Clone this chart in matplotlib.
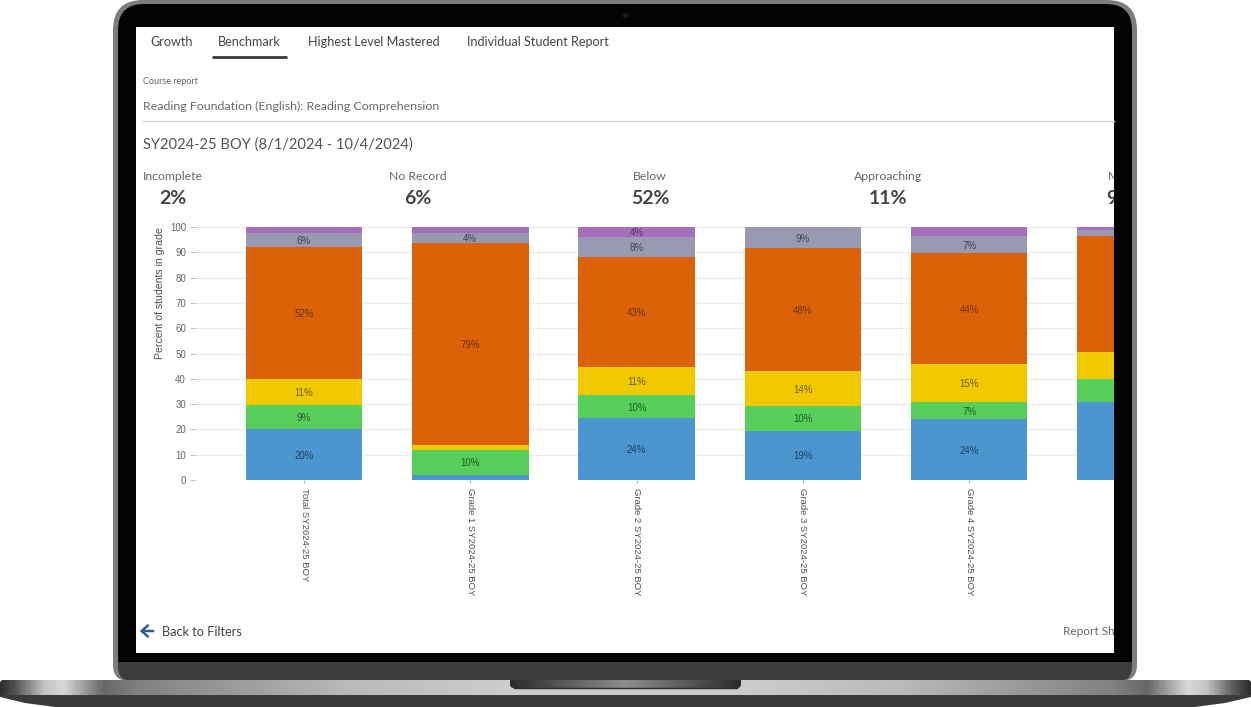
import matplotlib
matplotlib.use('Agg')
import matplotlib.pyplot as plt
import numpy as np
from matplotlib.colors import LinearSegmentedColormap
from matplotlib.patches import FancyBboxPatch, Rectangle, Polygon

W, H = 1251, 707

categories = ['Total SY2024-25 BOY', 'Grade 1 SY2024-25 BOY', 'Grade 2 SY2024-25 BOY',
              'Grade 3 SY2024-25 BOY', 'Grade 4 SY2024-25 BOY', 'Grade 5 SY2024-25 BOY']

# stacked from the bottom up
blue = [20, 2, 24.4, 19.5, 24, 31]
green = [9.5, 10, 9.1, 9.8, 6.8, 9]
yellow = [10.5, 2, 11.1, 13.7, 15, 10.4]
orange = [52, 79.5, 43.4, 48.6, 43.9, 46]
gray = [5.6, 4.1, 8, 8.4, 6.7, 2.6]
purple = [2.4, 2.4, 4, 0, 3.6, 1]

blue_labels = ['20%', '', '24%', '19%', '24%', '']
green_labels = ['9%', '10%', '10%', '10%', '7%', '']
yellow_labels = ['11%', '', '11%', '14%', '15%', '']
orange_labels = ['52%', '79%', '43%', '48%', '44%', '']
gray_labels = ['6%', '4%', '8%', '9%', '7%', '']
purple_labels = ['', '', '4%', '', '', '']

summary_names = ['Incomplete', 'No Record', 'Below', 'Approaching', 'Meets']
summary_values = ['2%', '6%', '52%', '11%', '9%']
tabs = ['Growth', 'Benchmark', 'Highest Level Mastered', 'Individual Student Report']

UI_FONT = ['Lato', 'Open Sans', 'DejaVu Sans']
CHART_FONT = ['Liberation Sans', 'DejaVu Sans']


def make_axes(fig, left, top, right, bottom):
    return fig.add_axes([left / W, 1 - bottom / H, (right - left) / W, (bottom - top) / H])


fig = plt.figure(figsize=(W / 100, H / 100), dpi=100, facecolor='white')

# laptop body and screen, drawn in pixel coordinates
bg = fig.add_axes([0, 0, 1, 1])
bg.set_xlim(0, W)
bg.set_ylim(H, 0)
bg.axis('off')


def rounded(ax, x0, y0, x1, y1, r, color, z):
    p = FancyBboxPatch((x0 + r, y0 + r), x1 - x0 - 2 * r, y1 - y0 - 2 * r,
                       boxstyle=f'round,pad={r},rounding_size={r}',
                       facecolor=color, edgecolor='none', zorder=z)
    ax.add_patch(p)
    return p


# outer frame: big radius on top, small at the bottom
rounded(bg, 113, 0, 1137, 300, 30, '#7b7d80', 1)
rounded(bg, 113, 100, 1137, 681, 16, '#7b7d80', 1)
rounded(bg, 118, 4, 1132, 300, 26, '#030304', 2)
rounded(bg, 118, 100, 1132, 681, 14, '#3c3c3c', 2)
bg.add_patch(Rectangle((118, 100), 1014, 562, facecolor='#030304', edgecolor='none', zorder=3))
bg.add_patch(Rectangle((136, 27), 978, 626, facecolor='white', edgecolor='none', zorder=4))
bg.plot([625], [15], 'o', ms=3, color='#1c1c20', zorder=5)

# base of the laptop: metallic strip over a dark lower lip
bg.add_patch(Polygon([(0, 694), (1251, 694), (1251, 697), (1225, 703), (1195, 707),
                      (55, 707), (25, 703), (0, 697)],
                     facecolor='#3b3b3c', edgecolor='none', zorder=6))
metal = LinearSegmentedColormap.from_list('metal', [
    (0.0, '#2e2e2e'), (0.012, '#555555'), (0.035, '#c4c5c5'), (0.05, '#d8d8d8'),
    (0.082, '#666767'), (0.11, '#808181'), (0.28, '#b9bbbb'), (0.40, '#cacccc'),
    (0.60, '#cacccc'), (0.72, '#b9bbbb'), (0.89, '#808181'), (0.918, '#666767'),
    (0.95, '#d8d8d8'), (0.965, '#c4c5c5'), (0.988, '#555555'), (1.0, '#2e2e2e')], N=1024)
strip = bg.imshow(np.linspace(0, 1, 1251)[None, :], cmap=metal, aspect='auto',
                  extent=(0, W, 695, 680), zorder=7, interpolation='bilinear')
strip.set_clip_path(FancyBboxPatch((3, 683), W - 6, 12, boxstyle='round,pad=3,rounding_size=3',
                                   transform=bg.transData))

# notch in the base, shaded darker towards the ends and the bottom
notch_cmap = LinearSegmentedColormap.from_list('notch', ['#2c2c2c', '#8c8d8d', '#2c2c2c'], N=256)
notch = bg.imshow(np.linspace(0, 1, 231)[None, :], cmap=notch_cmap, aspect='auto',
                  extent=(510, 741, 688, 680), zorder=8, interpolation='bilinear')
notch.set_clip_path(FancyBboxPatch((514, 676), 223, 8, boxstyle='round,pad=4,rounding_size=4',
                                   transform=bg.transData))
bg.plot([514, 737], [687.5, 687.5], color='#2e2e2e', lw=1, zorder=9)
bg.set_xlim(0, W)
bg.set_ylim(H, 0)

# page text
UI = dict(family=UI_FONT, zorder=9)
for label, x in zip(tabs, [150, 218, 308, 467]):
    bg.text(x, 42, label, fontsize=9.1, color='#444444', va='center', ha='left', **UI)
bg.plot([212, 287], [57, 57], color='#3a3a3a', lw=2, zorder=9, solid_capstyle='butt')
bg.text(143, 82, 'Course report', fontsize=6.5, color='#666666', va='center', **UI)
bg.text(143, 106, 'Reading Foundation (English): Reading Comprehension', fontsize=8.9,
        color='#6a6a6a', va='center', **UI)
bg.plot([143, 1114], [121, 121], color='#d2d2d2', lw=1, zorder=9)
bg.text(143, 145, 'SY2024-25 BOY (8/1/2024 - 10/4/2024)', fontsize=10.6, color='#555555',
        va='center', **UI)

# the last summary column and the footer run under the bezel, cut them at the screen edge
clip = Rectangle((136, 27), 978, 626, transform=bg.transData)
for name, value, xn, xv in zip(summary_names, summary_values, [173, 418, 650, 888, 1125],
                               [173, 418, 650, 888, 1120]):
    t1 = bg.text(xn, 176, name, fontsize=8.8, color='#666666', va='center', ha='center', **UI)
    t2 = bg.text(xv, 198, value, fontsize=14, color='#444444', va='center', ha='center',
                 fontweight='bold', **UI)
    for t in (t1, t2):
        t.set_clip_on(True)
        t.set_clip_path(clip)

bg.annotate('', xy=(137, 631), xytext=(156, 631), zorder=9,
            arrowprops=dict(arrowstyle='->,head_width=0.4,head_length=0.45', color='#2f5f8f', lw=1.8))
bg.text(162, 631.5, 'Back to Filters', fontsize=9.2, color='#444444', va='center', **UI)
t = bg.text(1063, 631.5, 'Report Shared', fontsize=8.5, color='#666666', va='center', **UI)
t.set_clip_on(True)
t.set_clip_path(clip)

# stacked bar chart, the axes stop at the screen edge so the last bar is cut
ax = make_axes(fig, 196, 227, 1114, 480)
ax.patch.set_alpha(0)
x = np.arange(len(categories))
series = [(blue, blue_labels, '#4b96cf', '#1d3f63'),
          (green, green_labels, '#58cf5a', '#1f5f28'),
          (yellow, yellow_labels, '#f0c900', '#6f5c00'),
          (orange, orange_labels, '#dc6209', '#6b3208'),
          (gray, gray_labels, '#9999b1', '#44444f'),
          (purple, purple_labels, '#a66fbd', '#4f3560')]

bottom = np.zeros(len(categories))
for values, labels, color, text_color in series:
    bars = ax.bar(x, values, width=0.70, bottom=bottom, color=color, zorder=3)
    texts = ax.bar_label(bars, labels=labels, label_type='center', fontsize=7, color=text_color,
                         family=CHART_FONT, zorder=4)
    for t in texts:
        t.xyann = (0, -0.8)
    bottom += np.array(values)

ax.set_xlim((196 - 304) / 166.3, (1114 - 304) / 166.3)
ax.set_ylim(0, 100)
ax.set_yticks(range(0, 101, 10))
ax.yaxis.grid(True, color='#ececec', lw=1)
ax.set_axisbelow(True)
ax.set_xticks(x[:5])
ax.set_xticklabels(categories[:5], rotation=270, family=CHART_FONT, fontsize=6.8, color='#505050')
ax.tick_params(axis='x', length=2.5, color='#aaaaaa', pad=3)
ax.tick_params(axis='y', length=4.3, color='#c4c4c4', labelsize=7, labelcolor='#666666', pad=2.9)
for lab in ax.get_yticklabels():
    lab.set_family(CHART_FONT)
for spine in ax.spines.values():
    spine.set_visible(False)
ax.set_ylabel('Percent of students in grade', fontsize=7.6, color='#505050', family=CHART_FONT,
              loc='top')
ax.yaxis.set_label_coords((165 - 196) / (1114 - 196), 1.0)

fig.savefig('out.png', dpi=100)
